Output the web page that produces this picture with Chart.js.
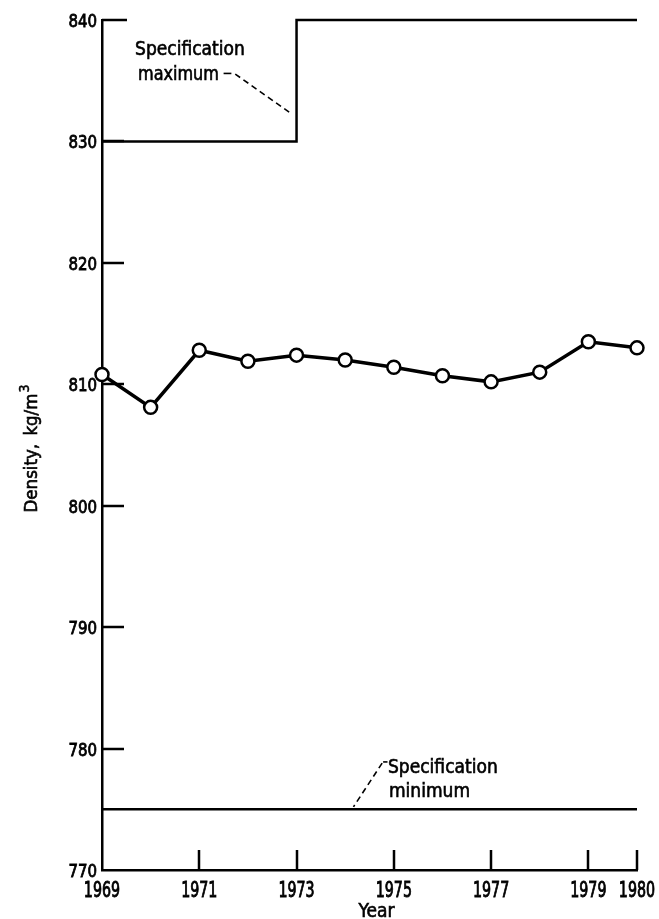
<!DOCTYPE html>
<html>
<head>
<meta charset="utf-8">
<script src="https://cdn.jsdelivr.net/npm/chart.js@4.4.1/dist/chart.umd.min.js"></script>
<style>
  html, body { margin: 0; padding: 0; background: #fff; }
  #wrap { width: 659px; height: 919px; }
</style>
</head>
<body>
<div id="wrap"><canvas id="c" width="659" height="919"></canvas></div>
<script>
// Annual average fuel density, 1969-1980
const years = [1969, 1970, 1971, 1972, 1973, 1974, 1975, 1976, 1977, 1978, 1979, 1980];
const density = [810.8, 808.1, 812.8, 811.9, 812.4, 812.0, 811.4, 810.7, 810.2, 811.0, 813.5, 813.0];

// Specification limits (maximum raised from 830 to 840 in 1973)
const specMaxYears = [1969, 1973, 1973, 1980];
const specMaxValues = [830, 830, 840, 840];
const specMinYears = [1969, 1980];
const specMinValues = [775, 775];

// Axis ticks
const xTickValues = [1969, 1971, 1973, 1975, 1977, 1979, 1980];
const yTickValues = [770, 780, 790, 800, 810, 820, 830, 840];

const toXY = (xs, ys) => xs.map((x, i) => ({ x: x, y: ys[i] }));

const FONT = "'DejaVu Sans Condensed', 'DejaVu Sans', 'Liberation Sans', sans-serif";

// Fill text with a thin outline so the strokes carry more weight
function heavyText(ctx, text, x, y, weight) {
  ctx.fillText(text, x, y);
  ctx.lineWidth = weight;
  ctx.strokeText(text, x, y);
}

// Inward tick marks and narrow tick labels on both axes
const axisMarks = {
  id: 'axisMarks',
  afterDatasetsDraw(chart) {
    const { ctx, chartArea, scales: { x, y } } = chart;
    ctx.save();
    ctx.strokeStyle = '#000';
    ctx.fillStyle = '#000';
    ctx.lineWidth = 2.5;
    ctx.beginPath();
    y.ticks.forEach(t => {
      if (t.value === 770) return;
      const py = Math.round(y.getPixelForValue(t.value));
      ctx.moveTo(chartArea.left, py);
      ctx.lineTo(chartArea.left + (t.value === 840 ? 25 : 22), py);
    });
    x.ticks.forEach(t => {
      if (t.value === 1969) return;
      const px = Math.round(x.getPixelForValue(t.value));
      ctx.moveTo(px, chartArea.bottom);
      ctx.lineTo(px, chartArea.bottom - 20);
    });
    ctx.stroke();

    ctx.textBaseline = 'alphabetic';
    ctx.font = '18.5px ' + FONT;
    ctx.textAlign = 'right';
    y.ticks.forEach(t => {
      const py = y.getPixelForValue(t.value);
      ctx.save();
      ctx.translate(chartArea.left - 5, py + 7);
      ctx.scale(0.9, 1);
      heavyText(ctx, String(t.value), 0, 0, 0.8);
      ctx.restore();
    });
    ctx.font = '22px ' + FONT;
    ctx.textAlign = 'center';
    x.ticks.forEach(t => {
      const px = x.getPixelForValue(t.value);
      ctx.save();
      ctx.translate(px, chartArea.bottom + 26.5);
      ctx.scale(0.72, 1);
      heavyText(ctx, String(t.value), 0, 0, 0.9);
      ctx.restore();
    });
    ctx.restore();
  }
};

// Axis titles and the specification callouts
const notes = {
  id: 'notes',
  afterDraw(chart) {
    const { ctx, chartArea, scales: { x, y } } = chart;
    const X = v => x.getPixelForValue(v);
    const Y = v => y.getPixelForValue(v);
    ctx.save();
    ctx.fillStyle = '#000';
    ctx.strokeStyle = '#000';

    // y-axis title with superscript
    ctx.save();
    ctx.translate(37, 449);
    ctx.rotate(-Math.PI / 2);
    ctx.font = '18.5px ' + FONT;
    ctx.textBaseline = 'alphabetic';
    const main = 'Density, kg/m';
    const w = ctx.measureText(main).width + 3;
    ctx.font = '14px ' + FONT;
    const w3 = ctx.measureText('3').width;
    const start = -(w + w3) / 2;
    ctx.font = '18.5px ' + FONT;
    ctx.textAlign = 'left';
    heavyText(ctx, 'Density,', start, 0, 0.6);
    heavyText(ctx, 'kg/m', start + ctx.measureText('Density, ').width + 3, 0, 0.6);
    ctx.font = '14px ' + FONT;
    heavyText(ctx, '3', start + w + 1, -8, 0.5);
    ctx.restore();

    // x-axis title
    ctx.font = '19px ' + FONT;
    ctx.textAlign = 'center';
    ctx.textBaseline = 'alphabetic';
    heavyText(ctx, 'Year', (chartArea.left + chartArea.right) / 2 + 7, 917, 0.6);

    // Specification maximum callout
    ctx.textAlign = 'left';
    heavyText(ctx, 'Specification', X(1969.68), Y(837.1), 0.6);
    ctx.save();
    ctx.translate(X(1969.74), Y(835.1));
    ctx.scale(0.94, 1);
    heavyText(ctx, 'maximum', 0, 0, 0.6);
    ctx.restore();
    ctx.lineWidth = 1.6;
    ctx.beginPath();
    ctx.moveTo(X(1971.5), Y(835.6));
    ctx.lineTo(X(1971.66), Y(835.6));
    ctx.stroke();
    ctx.setLineDash([6, 4]);
    ctx.beginPath();
    ctx.moveTo(X(1971.74), Y(835.55));
    ctx.lineTo(X(1972.87), Y(832.35));
    ctx.stroke();

    // Specification minimum callout
    ctx.setLineDash([]);
    heavyText(ctx, 'Specification', X(1974.88), Y(777.95), 0.6);
    heavyText(ctx, 'minimum', X(1974.9), Y(776.05), 0.6);
    ctx.lineWidth = 1.6;
    ctx.beginPath();
    ctx.moveTo(X(1974.87), Y(778.9));
    ctx.lineTo(X(1974.78), Y(778.9));
    ctx.stroke();
    ctx.setLineDash([6, 4]);
    ctx.beginPath();
    ctx.moveTo(X(1974.76), Y(778.8));
    ctx.lineTo(X(1974.17), Y(775.2));
    ctx.stroke();
    ctx.restore();
  }
};

new Chart(document.getElementById('c'), {
  type: 'line',
  data: {
    datasets: [
      {
        label: 'Density',
        data: toXY(years, density),
        borderColor: '#000',
        borderWidth: 3.5,
        pointRadius: 6.5,
        pointBorderWidth: 2.5,
        pointBackgroundColor: '#fff',
        pointBorderColor: '#000',
        tension: 0,
        clip: false
      },
      {
        label: 'Specification maximum',
        data: toXY(specMaxYears, specMaxValues),
        borderColor: '#000',
        borderWidth: 2.5,
        pointRadius: 0,
        tension: 0,
        clip: false
      },
      {
        label: 'Specification minimum',
        data: toXY(specMinYears, specMinValues),
        borderColor: '#000',
        borderWidth: 2.5,
        pointRadius: 0,
        tension: 0,
        clip: false
      }
    ]
  },
  options: {
    responsive: false,
    devicePixelRatio: 1,
    animation: false,
    events: [],
    layout: { padding: { top: 20, right: 22, left: 0, bottom: 0 } },
    plugins: { legend: { display: false }, tooltip: { enabled: false } },
    scales: {
      x: {
        type: 'linear',
        min: 1969,
        max: 1980,
        grid: { display: false },
        border: { display: true, color: '#000', width: 2.5 },
        afterBuildTicks: s => { s.ticks = xTickValues.map(v => ({ value: v })); },
        afterFit: s => { s.height = 49; },
        ticks: { display: false }
      },
      y: {
        min: 770,
        max: 840,
        grid: { display: false },
        border: { display: true, color: '#000', width: 2.5 },
        afterBuildTicks: s => { s.ticks = yTickValues.map(v => ({ value: v })); },
        afterFit: s => { s.width = 102; },
        ticks: { display: false }
      }
    }
  },
  plugins: [axisMarks, notes]
});
</script>
</body>
</html>
